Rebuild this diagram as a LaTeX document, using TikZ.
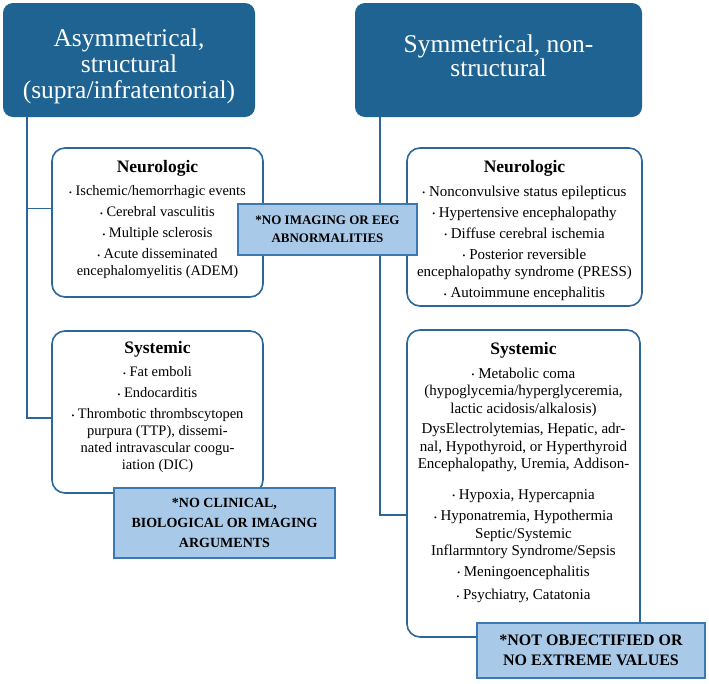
\documentclass[tikz,border=0pt]{standalone}
\usepackage{fontspec}
\setmainfont{Liberation Serif}
\usetikzlibrary{positioning}

\definecolor{hdrblue}{HTML}{1F6392}
\definecolor{edgeblue}{HTML}{2B679B}
\definecolor{noteblue}{HTML}{A9C9E8}
\definecolor{notedge}{HTML}{3C78B2}

\newcommand{\grouphead}[1]{{\fontsize{17.5}{17}\selectfont\bfseries #1}}
\newcommand{\itm}{{\fontsize{8}{8}\selectfont\raisebox{0.5pt}{\textbullet}}\ }

\begin{document}
\begin{tikzpicture}[
    x=1pt, y=-1pt,
    header/.style={rectangle, rounded corners=10pt, fill=hdrblue, draw=none,
                   text=white, align=center, font=\fontsize{25.5}{26}\selectfont},
    group/.style={rectangle, rounded corners=13pt, draw=edgeblue,
                  line width=1.6pt, fill=white},
    grouptext/.style={align=center, inner sep=0pt, text=black,
                      font=\fontsize{14.5}{17}\selectfont},
    widetext/.style={grouptext, font=\fontsize{15}{17.5}\selectfont},
    note/.style={rectangle, draw=notedge, line width=1.4pt, fill=noteblue,
                 align=center, inner sep=0pt, text=black},
    link/.style={draw=edgeblue, line width=1.6pt}
  ]
    \useasboundingbox (0,0) rectangle (709,683);

    % Headers
    \node[header, minimum width=252pt, minimum height=114pt] (headL) at (129,60)
        {\rule{0pt}{30pt}Asymmetrical,\\structural\\(supra/infratentorial)};
    \node[header, minimum width=287pt, minimum height=114pt] (headR) at (498.5,60)
        {Symmetrical, non-\\[-2pt]structural\rule[-8pt]{0pt}{8pt}};

    % Group boxes
    \node[group, minimum width=211pt, minimum height=149pt] (neuroL) at (157.5,222.5) {};
    \node[group, minimum width=211pt, minimum height=162pt] (sysL) at (157.5,412) {};
    \node[group, minimum width=235pt, minimum height=158pt] (neuroR) at (524.5,227) {};
    \node[group, minimum width=233pt, minimum height=307pt] (sysR) at (523.5,483.5) {};

    % Connectors
    \draw[link] ([xshift=24pt]headL.south west) |- ([yshift=14pt]neuroL.west);
    \draw[link] ([xshift=24pt]headL.south west) |- ([yshift=-6pt]sysL.west);
    \draw[link] ([xshift=25pt]headR.south west) |- ([yshift=-31.5pt]sysR.west);

    % Group contents
    \node[grouptext, below=13pt of neuroL.north] (neuroLtext)
        {\grouphead{Neurologic}\\[6pt]
         \itm Ischemic/hemorrhagic events\\[4pt]
         \itm Cerebral vasculitis\\[4pt]
         \itm Multiple sclerosis\\[4pt]
         \itm Acute disseminated\\
         encephalomyelitis (ADEM)};
    \node[grouptext, below=11pt of sysL.north] (sysLtext)
        {\grouphead{Systemic}\\[6pt]
         \itm Fat emboli\\[4pt]
         \itm Endocarditis\\[4pt]
         \itm Thrombotic thrombscytopen\\
         purpura (TTP), dissemi-\\
         nated intravascular coogu-\\
         iation (DIC)};
    \node[widetext, below=13pt of neuroR.north] (neuroRtext)
        {\grouphead{Neurologic}\\[6pt]
         \itm Nonconvulsive status epilepticus\\[3.5pt]
         \itm Hypertensive encephalopathy\\[3.5pt]
         \itm Diffuse cerebral ischemia\\[3.5pt]
         \itm Posterior reversible\\
         encephalopathy syndrome (PRESS)\\[3.5pt]
         \itm Autoimmune encephalitis};
    \node[widetext, below=13pt of sysR.north] (sysRtext)
        {\grouphead{Systemic}\\[6pt]
         \itm Metabolic coma\\
         (hypoglycemia/hyperglyceremia,\\
         lactic acidosis/alkalosis)\\[3pt]
         DysElectrolytemias, Hepatic, adr-\\
         nal, Hypothyroid, or Hyperthyroid\\
         Encephalopathy, Uremia, Addison-\\[13pt]
         \itm Hypoxia, Hypercapnia\\[4pt]
         \itm Hyponatremia, Hypothermia\\
         Septic/Systemic\\
         Inflarmntory Syndrome/Sepsis\\[3pt]
         \itm Meningoencephalitis\\[6pt]
         \itm Psychiatry, Catatonia};

    % Notes
    \node[note, minimum width=179pt, minimum height=51pt,
          font=\bfseries\fontsize{13}{18}\selectfont] (noteImg) at (327.5,229.5)
        {*NO IMAGING OR EEG\\ABNORMALITIES};
    \node[note, minimum width=221pt, minimum height=70pt,
          font=\bfseries\fontsize{14}{20}\selectfont] (noteClin) at (224.5,523)
        {*NO CLINICAL,\\BIOLOGICAL OR IMAGING\\ARGUMENTS};
    \node[note, minimum width=228pt, minimum height=55pt,
          font=\bfseries\fontsize{16}{20}\selectfont] (noteVal) at (591,650.5)
        {*NOT OBJECTIFIED OR\\NO EXTREME VALUES};

\end{tikzpicture}
\end{document}
